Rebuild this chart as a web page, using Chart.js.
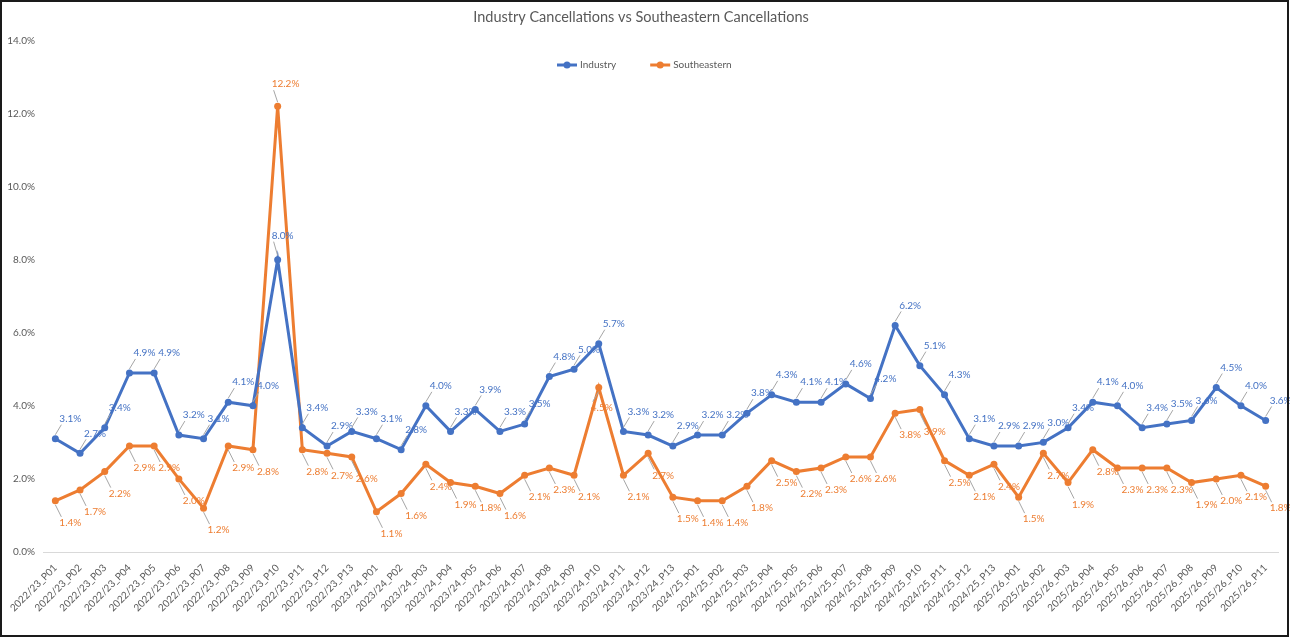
<!DOCTYPE html>
<html>
<head>
<meta charset="utf-8">
<script src="https://cdn.jsdelivr.net/npm/chart.js@4.4.1/dist/chart.umd.min.js"></script>
<style>
  html, body { margin: 0; padding: 0; background: #fff; }
  #wrap { width: 1290px; height: 638px; position: relative; }
</style>
</head>
<body>
<div id="wrap"><canvas id="chart"></canvas></div>
<script>
const categories = [
  '2022/23_P01', '2022/23_P02', '2022/23_P03', '2022/23_P04', '2022/23_P05', '2022/23_P06', '2022/23_P07',
  '2022/23_P08', '2022/23_P09', '2022/23_P10', '2022/23_P11', '2022/23_P12', '2022/23_P13',
  '2023/24_P01', '2023/24_P02', '2023/24_P03', '2023/24_P04', '2023/24_P05', '2023/24_P06', '2023/24_P07',
  '2023/24_P08', '2023/24_P09', '2023/24_P10', '2023/24_P11', '2023/24_P12', '2023/24_P13',
  '2024/25_P01', '2024/25_P02', '2024/25_P03', '2024/25_P04', '2024/25_P05', '2024/25_P06', '2024/25_P07',
  '2024/25_P08', '2024/25_P09', '2024/25_P10', '2024/25_P11', '2024/25_P12', '2024/25_P13',
  '2025/26_P01', '2025/26_P02', '2025/26_P03', '2025/26_P04', '2025/26_P05', '2025/26_P06', '2025/26_P07',
  '2025/26_P08', '2025/26_P09', '2025/26_P10', '2025/26_P11'
];

const industry = [
  3.1, 2.7, 3.4, 4.9, 4.9, 3.2, 3.1, 4.1, 4.0, 8.0, 3.4, 2.9, 3.3,
  3.1, 2.8, 4.0, 3.3, 3.9, 3.3, 3.5, 4.8, 5.0, 5.7, 3.3, 3.2, 2.9,
  3.2, 3.2, 3.8, 4.3, 4.1, 4.1, 4.6, 4.2, 6.2, 5.1, 4.3, 3.1, 2.9,
  2.9, 3.0, 3.4, 4.1, 4.0, 3.4, 3.5, 3.6, 4.5, 4.0, 3.6
];

const southeastern = [
  1.4, 1.7, 2.2, 2.9, 2.9, 2.0, 1.2, 2.9, 2.8, 12.2, 2.8, 2.7, 2.6,
  1.1, 1.6, 2.4, 1.9, 1.8, 1.6, 2.1, 2.3, 2.1, 4.5, 2.1, 2.7, 1.5,
  1.4, 1.4, 1.8, 2.5, 2.2, 2.3, 2.6, 2.6, 3.8, 3.9, 2.5, 2.1, 2.4,
  1.5, 2.7, 1.9, 2.8, 2.3, 2.3, 2.3, 1.9, 2.0, 2.1, 1.8
];

const yTicks = [0, 2, 4, 6, 8, 10, 12, 14];

const BLUE = '#4472C4';
const ORANGE = '#ED7D31';
const GREY = '#595959';

// where each series puts its value labels, relative to the point
const labelOffsets = [{ dx: 6, dy: -20 }, { dx: 6, dy: 22 }];
// a few labels that sit elsewhere (series index, point index)
const labelOverrides = { '0-9': { dx: -4, dy: -24 }, '1-9': { dx: -4, dy: -22 }, '1-22': { dx: -6, dy: 20 } };

const pointLabels = {
  id: 'pointLabels',
  afterDatasetsDraw(chart) {
    const ctx = chart.ctx;
    ctx.save();
    ctx.font = '10px Lato';
    ctx.textBaseline = 'middle';
    ctx.textAlign = 'left';
    chart.data.datasets.forEach((ds, i) => {
      const meta = chart.getDatasetMeta(i);
      meta.data.forEach((pt, j) => {
        const off = labelOverrides[i + '-' + j] || labelOffsets[i];
        const s = Math.sign(off.dy);
        const tx = pt.x + off.dx;
        const ty = pt.y + off.dy;
        ctx.strokeStyle = '#a6a6a6';
        ctx.lineWidth = 1;
        ctx.beginPath();
        ctx.moveTo(pt.x, pt.y + s * 4);
        ctx.lineTo(tx, ty - s * 6);
        ctx.stroke();
        ctx.fillStyle = ds.borderColor;
        ctx.fillText(ds.data[j].toFixed(1) + '%', tx - 2, ty);
      });
    });
    ctx.restore();
  }
};

// Excel style legend inside the plot: short line with a dot, then the name
const lineLegend = {
  id: 'lineLegend',
  afterDraw(chart) {
    const ctx = chart.ctx;
    const y = 65;
    let x = 557;
    ctx.save();
    ctx.font = '10px Lato';
    ctx.textBaseline = 'middle';
    ctx.textAlign = 'left';
    chart.data.datasets.forEach(ds => {
      ctx.strokeStyle = ds.borderColor;
      ctx.lineWidth = 3;
      ctx.beginPath(); ctx.moveTo(x, y); ctx.lineTo(x + 20, y); ctx.stroke();
      ctx.fillStyle = ds.borderColor;
      ctx.beginPath(); ctx.arc(x + 10, y, 3.5, 0, Math.PI * 2); ctx.fill();
      ctx.fillStyle = GREY;
      ctx.fillText(ds.label, x + 23, y);
      x += 23 + ctx.measureText(ds.label).width + 34;
    });
    ctx.restore();
  }
};

const frame = {
  id: 'frame',
  beforeDraw(chart) {
    const ctx = chart.ctx;
    ctx.save();
    ctx.fillStyle = '#fff';
    ctx.fillRect(0, 0, chart.width, chart.height);
    ctx.restore();
  },
  afterDraw(chart) {
    const ctx = chart.ctx;
    ctx.save();
    ctx.strokeStyle = '#1a1a1a';
    ctx.lineWidth = 2;
    ctx.strokeRect(1, 1, chart.width - 3, chart.height - 3);
    ctx.restore();
  }
};

const ctx = document.getElementById('chart').getContext('2d');
const chart = new Chart(ctx, {
  type: 'line',
  data: {
    labels: categories,
    datasets: [{
      label: 'Industry',
      data: industry,
      borderColor: BLUE,
      backgroundColor: BLUE,
      borderWidth: 3,
      pointRadius: 3.5,
      pointBackgroundColor: BLUE,
      pointBorderWidth: 0,
      tension: 0
    }, {
      label: 'Southeastern',
      data: southeastern,
      borderColor: ORANGE,
      backgroundColor: ORANGE,
      borderWidth: 3,
      pointRadius: 3.5,
      pointBackgroundColor: ORANGE,
      pointBorderWidth: 0,
      tension: 0
    }]
  },
  options: {
    responsive: true,
    maintainAspectRatio: false,
    animation: false,
    layout: { padding: { top: 3, left: 4, right: 12, bottom: 0 } },
    plugins: {
      title: {
        display: true,
        text: 'Industry Cancellations vs Southeastern Cancellations',
        color: GREY,
        font: { family: 'Lato', size: 14.5, weight: 'normal' },
        padding: { top: 6, bottom: 14 }
      },
      legend: { display: false },
      tooltip: { enabled: false }
    },
    scales: {
      x: {
        offset: true,
        grid: { display: false },
        border: { display: true, color: '#d9d9d9', width: 1 },
        ticks: {
          autoSkip: false,
          minRotation: 45,
          maxRotation: 45,
          color: GREY,
          font: { family: 'Lato', size: 10 },
          padding: 2
        },
        afterFit(scale) { scale.height = 86; }
      },
      y: {
        min: 0,
        max: 14,
        grid: { display: false, drawTicks: false },
        border: { display: false },
        afterBuildTicks(scale) { scale.ticks = yTicks.map(v => ({ value: v })); },
        ticks: {
          color: GREY,
          font: { family: 'Lato', size: 10 },
          padding: 8,
          callback: v => v.toFixed(1) + '%'
        },
        afterFit(scale) { scale.width = 39; }
      }
    }
  },
  plugins: [frame, pointLabels, lineLegend]
});
</script>
</body>
</html>
